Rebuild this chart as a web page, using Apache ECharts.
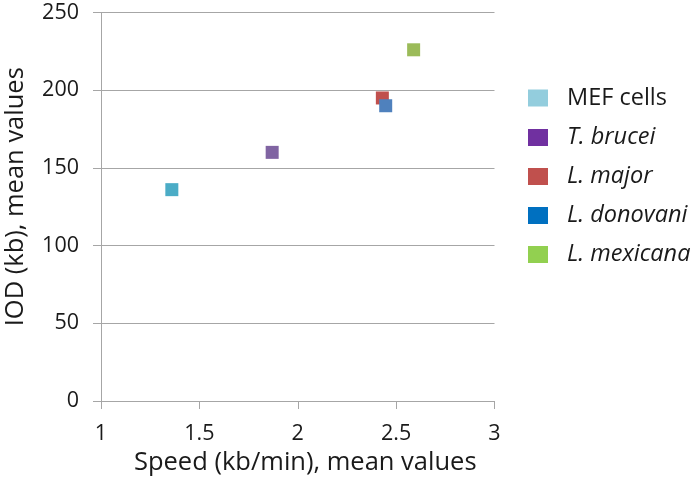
<!DOCTYPE html>
<html>
<head>
<meta charset="utf-8">
<script src="https://cdn.jsdelivr.net/npm/echarts@6/dist/echarts.min.js"></script>
<style>html,body{margin:0;padding:0;background:#fff;}#c{width:700px;height:479px;}</style>
</head>
<body>
<div id="c"></div>
<script>
var seriesNames = ['MEF cells', 'T. brucei', 'L. major', 'L. donovani', 'L. mexicana'];
var italicNames = [false, true, true, true, true];
var speedValues = [1.36, 1.87, 2.43, 2.447, 2.589];
var iodValues = [136, 160, 195, 190, 226];
var markerColors = ['#4BACC6', '#8064A2', '#C0504D', '#4F81BD', '#9BBB59'];
var legendColors = ['#93CDDD', '#7030A0', '#C0504D', '#0070C0', '#92D050'];

var font = 'Open Sans';
var chart = echarts.init(document.getElementById('c'));
var series = seriesNames.map(function (n, i) {
  return {
    name: n, type: 'scatter', symbol: 'rect', symbolSize: 13,
    itemStyle: { color: markerColors[i], opacity: 1 },
    data: [[speedValues[i], iodValues[i]]]
  };
});
chart.setOption({
  animation: false,
  grid: { left: 101, right: 205.5, top: 12.5, bottom: 78, containLabel: false, outerBoundsMode: 'none' },
  xAxis: {
    type: 'value', min: 1, max: 3, interval: 0.5,
    name: 'Speed (kb/min), mean values', nameLocation: 'middle', nameGap: 49,
    nameTextStyle: { fontFamily: font, fontSize: 25.5, color: '#1a1a1a', padding: [0, 0, 0, 15] },
    axisLine: { show: true, lineStyle: { color: '#a6a6a6', width: 1 } },
    axisTick: { show: true, inside: false, length: 8, lineStyle: { color: '#a6a6a6' } },
    axisLabel: { fontFamily: font, fontSize: 21.5, color: '#1a1a1a', margin: 22 },
    splitLine: { show: false }
  },
  yAxis: {
    type: 'value', min: 0, max: 250, interval: 50,
    name: 'IOD (kb), mean values', nameLocation: 'middle', nameGap: 72,
    nameTextStyle: { fontFamily: font, fontSize: 25.5, color: '#1a1a1a', padding: [0, 0, 0, 20] },
    axisLine: { show: true, lineStyle: { color: '#a6a6a6', width: 1 } },
    axisTick: { show: true, length: 8, lineStyle: { color: '#a6a6a6' } },
    axisLabel: { fontFamily: font, fontSize: 21.5, color: '#1a1a1a', margin: 22 },
    splitLine: { show: true, lineStyle: { color: '#a6a6a6', width: 1 } }
  },
  legend: {
    orient: 'vertical', left: 523, top: 81,
    itemWidth: 20, itemHeight: 17, itemGap: 16, icon: 'rect',
    data: seriesNames.map(function (n, i) {
      return { name: n, icon: 'rect', itemStyle: { color: legendColors[i] } };
    }),
    formatter: function (name) {
      var i = seriesNames.indexOf(name);
      return italicNames[i] ? '{i|' + name + '}' : '{n|' + name + '}';
    },
    textStyle: {
      fontFamily: font, fontSize: 23.5, color: '#1a1a1a', lineHeight: 20, padding: [0, 0, 0, 14],
      rich: {
        n: { fontFamily: font, fontSize: 23.5, color: '#1a1a1a', lineHeight: 20 },
        i: { fontFamily: font, fontSize: 23.5, color: '#1a1a1a', lineHeight: 20, fontStyle: 'italic' }
      }
    }
  },
  series: series
});
</script>
</body>
</html>
